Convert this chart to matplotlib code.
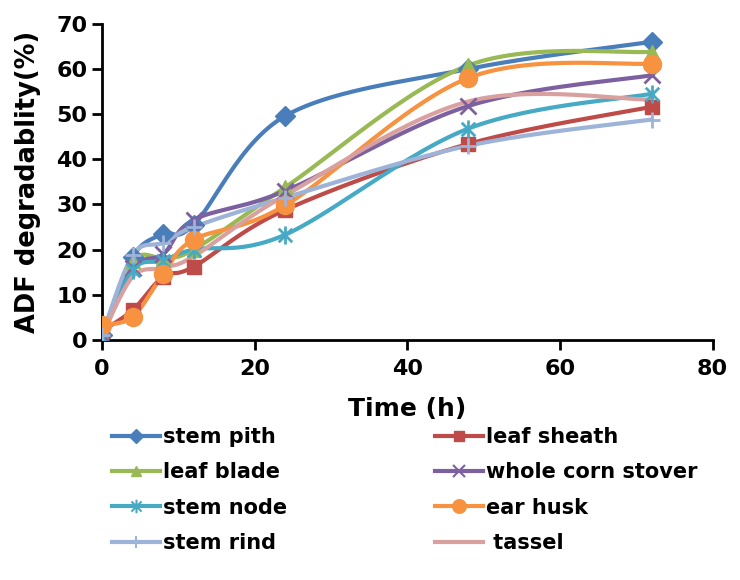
import numpy as np
import matplotlib
matplotlib.use("Agg")
import matplotlib.pyplot as plt
from matplotlib.path import Path

# incubation times (h)
hours = [0, 4, 8, 12, 24, 48, 72]

# ADF degradability (%)
stem_pith = [1.0, 18.4, 23.5, 25.5, 49.6, 60.0, 66.0]
leaf_sheath = [2.0, 6.6, 14.0, 16.2, 28.8, 43.4, 51.6]
leaf_blade = [1.0, 17.5, 18.2, 20.0, 33.8, 60.8, 63.8]
whole_corn_stover = [1.0, 16.0, 19.0, 26.6, 33.0, 51.8, 58.6]
stem_node = [0.5, 15.5, 17.5, 20.0, 23.3, 46.8, 54.5]
ear_husk = [3.3, 5.1, 14.5, 22.2, 29.8, 58.0, 61.2]
stem_rind = [1.0, 18.8, 21.5, 25.0, 31.5, 43.0, 48.8]
tassel = [1.0, 14.0, 16.0, 18.5, 32.0, 52.8, 53.2]

labels = ["stem pith", "leaf sheath", "leaf blade", "whole corn stover",
          "stem node", "ear husk", "stem rind", " tassel"]
series = [stem_pith, leaf_sheath, leaf_blade, whole_corn_stover,
          stem_node, ear_husk, stem_rind, tassel]
colors = ["#4A7EBB", "#BE4B48", "#98B954", "#7D60A0",
          "#46AAC5", "#F69240", "#9DB3D8", "#D9A0A0"]

# Excel style star: an X with a vertical bar through it
star = Path([(0, -1), (0, 1), (-0.75, -0.75), (0.75, 0.75), (-0.75, 0.75), (0.75, -0.75)],
            [Path.MOVETO, Path.LINETO] * 3)
markers = ["D", "s", "^", "x", star, "o", "+", None]
msizes = [10, 10, 10, 11, 13, 13, 12, 0]
thin = [False, False, False, True, True, False, True, False]


def smooth(x, y, n=30):
    # Excel-like smoothed line: cubic Bezier with Catmull-Rom control points
    x = np.asarray(x, float)
    y = np.asarray(y, float)
    px = np.concatenate([[x[0]], x, [x[-1]]])
    py = np.concatenate([[y[0]], y, [y[-1]]])
    t = np.linspace(0, 1, n)
    xs, ys = [], []
    for i in range(1, len(px) - 2):
        p0 = np.array([px[i], py[i]])
        p3 = np.array([px[i + 1], py[i + 1]])
        p1 = p0 + (p3 - np.array([px[i - 1], py[i - 1]])) / 6
        p2 = p3 - (np.array([px[i + 2], py[i + 2]]) - p0) / 6
        b = ((1 - t) ** 3)[:, None] * p0 + (3 * (1 - t) ** 2 * t)[:, None] * p1 \
            + (3 * (1 - t) * t ** 2)[:, None] * p2 + (t ** 3)[:, None] * p3
        xs.append(b[:, 0])
        ys.append(b[:, 1])
    return np.concatenate(xs), np.concatenate(ys)


plt.rcParams['font.family'] = ['DejaVu Sans']
plt.rcParams['font.weight'] = 'bold'

fig = plt.figure(figsize=(7.4, 5.8), dpi=100)
ax = fig.add_axes([0.138, 0.414, 0.825, 0.545])

handles = []
for y, lab, c, m, ms, th in zip(series, labels, colors, markers, msizes, thin):
    sx, sy = smooth(hours, y)
    ax.plot(sx, sy, color=c, lw=3, zorder=2)
    if m is not None:
        ax.plot(hours, y, ls='none', marker=m, ms=ms, color=c,
                mew=2 if th else 1, zorder=3)
    h, = ax.plot([], [], color=c, lw=3, marker=m, ms=ms * 0.75,
                 mew=1.5 if th else 1)
    handles.append(h)

ax.set_xlim(0, 80)
ax.set_ylim(0, 70)
ax.set_xticks(range(0, 81, 20))
ax.set_yticks(range(0, 71, 10))
for s in ("top", "right"):
    ax.spines[s].set_visible(False)
for s in ("left", "bottom"):
    ax.spines[s].set_linewidth(2)
ax.tick_params(width=2, length=7, labelsize=16)
ax.tick_params(axis='x', pad=7)
for lab in ax.get_xticklabels() + ax.get_yticklabels():
    lab.set_fontweight('bold')
ax.set_xlabel("Time (h)", fontsize=18, fontweight='bold', labelpad=13)
ax.set_ylabel("ADF degradablity(%)", fontsize=18.5, fontweight='bold', labelpad=11)

# legend: two columns filled row by row, as in the original
leg_kw = dict(loc='upper left', frameon=False, handlelength=2.3,
              handletextpad=0.15, labelspacing=0.74, borderpad=0,
              borderaxespad=0, prop={'weight': 'bold', 'size': 15})
fig.legend(handles[0::2], labels[0::2], bbox_to_anchor=(0.151, 0.264), **leg_kw)
fig.legend(handles[1::2], labels[1::2], bbox_to_anchor=(0.588, 0.264), **leg_kw)

fig.savefig("out.png", dpi=100, facecolor="white")
